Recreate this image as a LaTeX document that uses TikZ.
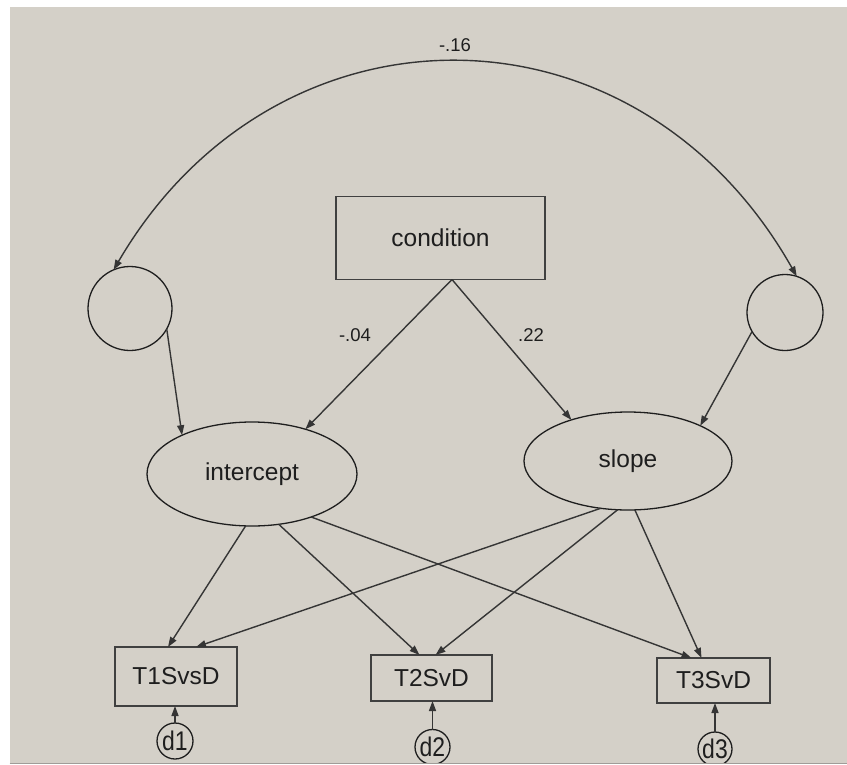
\documentclass[tikz,border=0pt]{standalone}
\usepackage{fontspec}
\setmainfont{Liberation Sans}
\usetikzlibrary{shapes.geometric,arrows.meta,calc}
\definecolor{panel}{HTML}{D4D0C8}
\definecolor{ink}{HTML}{1E1E1E}
\definecolor{frameline}{HTML}{A09C98}

\begin{document}
\begin{tikzpicture}[x=1pt,y=-1pt,
  every node/.style={inner sep=0pt, outer sep=0pt, text=ink},
  varfont/.style={font=\fontsize{24.5}{28}\selectfont},
  obs/.style={draw=ink!85, line width=1.8pt, rectangle, varfont},
  lat/.style={draw=ink, line width=1.3pt, ellipse, varfont},
  err/.style={draw=ink, line width=1.3pt, circle},
  errlabel/.style={err, font=\fontsize{27}{30}\selectfont},
  reg/.style={draw=ink!90, line width=1.4pt, -{Triangle[length=10pt,width=7pt]}},
  cov/.style={draw=ink!90, line width=1.4pt, {Triangle[length=10pt,width=7pt]}-{Triangle[length=10pt,width=7pt]}},
  coef/.style={font=\fontsize{18.5}{22}\selectfont}
]
\useasboundingbox (0,0) rectangle (847,764);
% window panel
\fill[white] (0,0) rectangle (847,764);
\fill[panel] (9.5,6.5) rectangle (847,762.5);
\draw[frameline, line width=1pt] (9.5,763.5) -- (847,763.5);

\begin{scope}
\clip (9.5,6.5) rectangle (847,762.5);

% observed and latent variables
\node[obs, minimum width=209pt, minimum height=83pt] (cond) at (440.5,238) {condition};
\node[lat, minimum width=210pt, minimum height=104pt] (int) at (252,474) {intercept};
\node[lat, minimum width=208pt, minimum height=98pt] (sl) at (628,461) {slope};
\node[err, minimum size=84pt] (lc) at (130,308.5) {};
\node[err, minimum size=76pt] (rc) at (785,312.5) {};
\node[obs, minimum width=122pt, minimum height=59pt] (t1) at (176,676.5) {T1SvsD};
\node[obs, minimum width=121pt, minimum height=46pt] (t2) at (431.5,678) {T2SvD};
\node[obs, minimum width=113pt, minimum height=45pt] (t3) at (713.5,680.5) {T3SvD};

% residuals
\node[errlabel, minimum size=36pt] (d1) at (175,741) {\scalebox{0.85}[1]{d1}};
\node[errlabel, minimum size=35pt] (d2) at (432.5,747) {\scalebox{0.85}[1]{d2}};
\node[errlabel, minimum size=34pt] (d3) at (715,749) {\scalebox{0.85}[1]{d3}};

% covariance between the growth-factor disturbances
\draw[cov] (lc.113) .. controls (276,-8) and (636,-8) .. (rc.72);
\node[coef] (c16) at (455,45) {-.16};

% condition effects
\coordinate (cfork) at ($(cond.south)+(11.5,0)$);
\draw[reg] (cfork) -- (int.40);
\draw[reg] (cfork) -- (sl.144);
\node[coef] (c04) at (355,335) {-.04};
\node[coef] (c22) at (531,335) {.22};

% disturbances into growth factors
\draw[reg] (lc.-29) -- (int.151);
\draw[reg] (rc.210) -- (sl.26);

% factor loadings
\draw[reg] (int.-97) -- ($(t1.north)+(-8,0)$);
\draw[reg] (int.-62) -- ($(t2.north)+(-12,0)$);
\draw[reg] (int.-36) -- ($(t3.north)+(-22,0)$);
\draw[reg] (sl.-120) -- ($(t1.north)+(20,0)$);
\draw[reg] (sl.-102) -- ($(t2.north)+(4,0)$);
\draw[reg] (sl.-82) -- ($(t3.north)+(-12,0)$);

% measurement errors
\draw[reg] (d1.north) -- (d1.north |- t1.south);
\draw[reg] (d2.north) -- (d2.north |- t2.south);
\draw[reg] (d3.north) -- (d3.north |- t3.south);
\end{scope}
\end{tikzpicture}
\end{document}
